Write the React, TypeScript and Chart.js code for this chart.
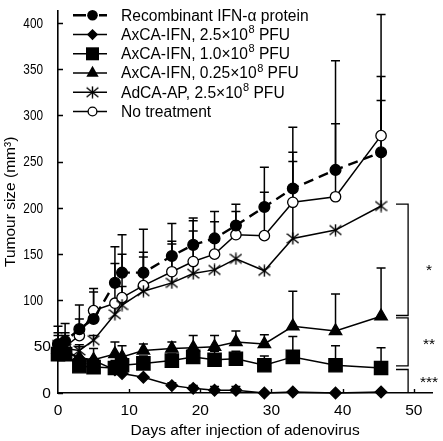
import React, { useEffect, useRef } from 'react';
import { Chart, registerables } from 'chart.js';
Chart.register(...registerables);

const FONT = '"Liberation Sans", Arial, Helvetica, sans-serif';

const days = [0, 1, 3, 5, 8, 9, 12, 16, 19, 22, 25, 29, 33, 39, 45.4];

const recombinant = [53, 56, 69, 80, 119, 130, 130, 148, 160, 167, 181, 201, 221, 241, 260];
const recombinantTop = [72, 75, 95, 113, 158, 171, 177, 183, 189, 196, 204, 244, 287, 291, 342];

const dose25 = [46, 45, 37, 35, 25, 21, 17, 8, 5, 3, 3, 0, 1, 0, 1];
const dose25Top = [null, null, null, null, null, null, null, 11, 8, 7, 7, null, null, null, null];

const dose10 = [42, 42, 29, 28, 27, 30, 32, 35, 39, 36, 37, 30, 39, 30, 27];
const dose10Top = [50, 50, 38, 35, 35, 36, 40, 42, 45, 45, 45, 40, 61, 51, 49];

const dose025 = [47, 46, 38, 36, 42, 39, 46, 48, 49, 50, 55, 53, 72, 67, 83];
const dose025Top = [null, null, 50, 48, 55, 51, 53, 55, 62, 62, 67, 63, 110, 107, 135];

const adcaAP = [52, 48, 46, 57, 85, 95, 110, 119, 129, 133, 145, 132, 167, 176, 202];
const adcaAPTop = [65, 62, 52, 62, 96, 115, 147, 161, 175, null, null, null, 250, null, 316];

const noTreatment = [52, 50, 62, 89, 97, 103, 116, 131, 142, 150, 171, 170, 206, 212, 278];
const noTreatmentTop = [62, 65, 80, 109, 140, 150, 152, 164, 186, 185, 196, 217, 260, 359, 409];

const xTickValues = [0, 10, 20, 30, 40, 50];
const yTickValues = [0, 50, 100, 150, 200, 250, 300, 350, 400];

const legendLabels: [string, string, string][] = [
  ['Recombinant IFN-α protein', '', ''],
  ['AxCA-IFN, 2.5×10', '8', ' PFU'],
  ['AxCA-IFN, 1.0×10', '8', ' PFU'],
  ['AxCA-IFN, 0.25×10', '8', ' PFU'],
  ['AdCA-AP, 2.5×10', '8', ' PFU'],
  ['No treatment', '', ''],
];

// significance brackets: [upper value, lower value] in mm³
const bracketSpans = [
  [204, 83.7],
  [81.2, 29.3],
  [25.4, 0],
];
const significanceLabels = ['*', '**', '***'];

function makeAsterisk(size: number, lw: number) {
  const c = document.createElement('canvas');
  c.width = size;
  c.height = size;
  const g = c.getContext('2d')!;
  g.strokeStyle = '#000';
  g.lineWidth = lw;
  const m = size / 2;
  const r = size / 2 - 0.6;
  g.beginPath();
  g.moveTo(m, m - r);
  g.lineTo(m, m + r);
  g.moveTo(m - r, m - r * 0.8);
  g.lineTo(m + r, m + r * 0.8);
  g.moveTo(m + r, m - r * 0.8);
  g.lineTo(m - r, m + r * 0.8);
  g.stroke();
  return c;
}

function drawMarker(ctx: CanvasRenderingContext2D, kind: string, x: number, y: number, star: HTMLCanvasElement) {
  ctx.save();
  ctx.fillStyle = '#000';
  ctx.strokeStyle = '#000';
  ctx.lineWidth = 1.3;
  ctx.setLineDash([]);
  ctx.beginPath();
  if (kind === 'circle') {
    ctx.arc(x, y, 5.3, 0, Math.PI * 2);
    ctx.fill();
  } else if (kind === 'diamond') {
    ctx.moveTo(x, y - 5.6);
    ctx.lineTo(x + 5.6, y);
    ctx.lineTo(x, y + 5.6);
    ctx.lineTo(x - 5.6, y);
    ctx.closePath();
    ctx.fill();
  } else if (kind === 'square') {
    ctx.rect(x - 6.5, y - 6.5, 13, 13);
    ctx.fill();
  } else if (kind === 'triangle') {
    ctx.moveTo(x, y - 7.2);
    ctx.lineTo(x + 6.2, y + 3.6);
    ctx.lineTo(x - 6.2, y + 3.6);
    ctx.closePath();
    ctx.fill();
  } else if (kind === 'star') {
    ctx.drawImage(star, x - star.width / 2, y - star.height / 2);
  } else if (kind === 'open') {
    ctx.arc(x, y, 4.4, 0, Math.PI * 2);
    ctx.fillStyle = '#fff';
    ctx.fill();
    ctx.stroke();
  }
  ctx.restore();
}

export default function App() {
  const ref = useRef<HTMLCanvasElement>(null);

  useEffect(() => {
    if (!ref.current) return;
    const star = makeAsterisk(13, 1.4);
    const series = [
      { label: legendLabels[0].join(''), values: recombinant, tops: recombinantTop, kind: 'circle', style: 'circle', radius: 5.4, fill: '#000', dash: [10, 6], width: 2.4 },
      { label: legendLabels[1].join(''), values: dose25, tops: dose25Top, kind: 'diamond', style: 'rectRot', radius: 5.8, fill: '#000', dash: [], width: 1.5 },
      { label: legendLabels[2].join(''), values: dose10, tops: dose10Top, kind: 'square', style: 'rect', radius: 9.4, fill: '#000', dash: [], width: 1.5 },
      { label: legendLabels[3].join(''), values: dose025, tops: dose025Top, kind: 'triangle', style: 'triangle', radius: 7.2, fill: '#000', dash: [], width: 1.5 },
      { label: legendLabels[4].join(''), values: adcaAP, tops: adcaAPTop, kind: 'star', style: star as any, radius: 6.5, fill: '#000', dash: [], width: 1.5 },
      { label: legendLabels[5].join(''), values: noTreatment, tops: noTreatmentTop, kind: 'open', style: 'circle', radius: 5.2, fill: '#fff', dash: [], width: 1.5 },
    ];

    const errorBars = {
      id: 'errorBars',
      beforeDatasetsDraw(chart: any) {
        const { ctx, scales } = chart;
        const xs = scales.x;
        const ys = scales.y;
        ctx.save();
        ctx.strokeStyle = '#000';
        ctx.lineWidth = 1.5;
        ctx.setLineDash([]);
        series.forEach((s) => {
          s.tops.forEach((t: number | null, i: number) => {
            if (t == null) return;
            const px = xs.getPixelForValue(days[i]);
            const p0 = ys.getPixelForValue(s.values[i]);
            const p1 = ys.getPixelForValue(t);
            ctx.beginPath();
            ctx.moveTo(px, p0);
            ctx.lineTo(px, p1);
            ctx.moveTo(px - 4.5, p1);
            ctx.lineTo(px + 4.5, p1);
            ctx.stroke();
          });
        });
        ctx.restore();
      },
    };

    const decorations = {
      id: 'decorations',
      afterDraw(chart: any) {
        const { ctx, scales } = chart;
        const xs = scales.x;
        const ys = scales.y;
        const left = chart.chartArea.left;
        const bottom = chart.chartArea.bottom;
        ctx.save();
        ctx.strokeStyle = '#000';
        ctx.fillStyle = '#000';
        ctx.lineWidth = 1.4;
        // inward ticks
        ctx.beginPath();
        yTickValues.forEach((v) => {
          const py = Math.round(ys.getPixelForValue(v)) + 0.5;
          ctx.moveTo(left, py);
          ctx.lineTo(left + 5, py);
        });
        xTickValues.forEach((v) => {
          if (v === 0) return;
          const px = Math.round(xs.getPixelForValue(v)) + 0.5;
          ctx.moveTo(px, bottom);
          ctx.lineTo(px, bottom - 4);
        });
        ctx.stroke();

        // y tick labels
        ctx.font = `15.5px ${FONT}`;
        ctx.textBaseline = 'middle';
        ctx.textAlign = 'right';
        yTickValues.forEach((v) => {
          const text = String(v);
          const py = ys.getPixelForValue(v) + 0.5;
          if (text.length >= 3) {
            ctx.save();
            ctx.translate(43, py);
            ctx.scale(0.76, 1);
            ctx.fillText(text, 0, 0);
            ctx.restore();
          } else {
            ctx.fillText(text, 50.9, py);
          }
        });

        // brackets
        const bx0 = xs.getPixelForValue(47.5);
        const bx1 = xs.getPixelForValue(49.2);
        ctx.lineWidth = 1.3;
        const labelOffsets = [14.9, 7.2, 6.2];
        bracketSpans.forEach(([hi, lo], i) => {
          const pTop = ys.getPixelForValue(hi);
          const pBot = ys.getPixelForValue(lo);
          ctx.beginPath();
          ctx.moveTo(bx0, pTop);
          ctx.lineTo(bx1, pTop);
          ctx.lineTo(bx1, pBot);
          if (lo > 0) ctx.lineTo(bx0, pBot);
          ctx.stroke();
          const mid = (pTop + pBot) / 2;
          ctx.font = `15.5px ${FONT}`;
          ctx.textAlign = 'center';
          ctx.textBaseline = 'alphabetic';
          ctx.fillText(significanceLabels[i], 429, mid + labelOffsets[i]);
        });

        // legend
        const rowY0 = 15.3;
        const rowStep = 19.25;
        series.forEach((s, i) => {
          const y = rowY0 + i * rowStep;
          ctx.save();
          ctx.strokeStyle = '#000';
          ctx.beginPath();
          if (s.dash.length) {
            ctx.lineWidth = 2.6;
            ctx.moveTo(73, y);
            ctx.lineTo(86, y);
            ctx.moveTo(99, y);
            ctx.lineTo(107, y);
          } else {
            ctx.lineWidth = 1.5;
            ctx.moveTo(73, y);
            ctx.lineTo(107, y);
          }
          ctx.stroke();
          ctx.restore();
          drawMarker(ctx, s.kind, 92.5, y, star);
          const [a, sup, b] = legendLabels[i];
          ctx.font = `15.6px ${FONT}`;
          ctx.textAlign = 'left';
          ctx.textBaseline = 'middle';
          let x = 121;
          ctx.fillText(a, x, y + 1);
          x += ctx.measureText(a).width;
          if (sup) {
            ctx.font = `11px ${FONT}`;
            ctx.fillText(sup, x + 0.5, y - 4.5);
            x += ctx.measureText(sup).width + 0.5;
            ctx.font = `15.6px ${FONT}`;
            ctx.fillText(b, x, y + 1);
          }
        });
        ctx.restore();
      },
    };

    const chart = new Chart(ref.current, {
      type: 'line',
      data: {
        datasets: series.map((s) => ({
          label: s.label,
          data: days.map((d, i) => ({ x: d, y: s.values[i] })),
          borderColor: '#000',
          borderWidth: s.width,
          borderDash: s.dash,
          pointStyle: s.style,
          pointRadius: s.radius,
          pointHoverRadius: s.radius,
          pointBackgroundColor: s.fill,
          pointBorderColor: '#000',
          pointBorderWidth: 1.3,
          tension: 0,
          fill: false,
          clip: false as any,
        })),
      },
      plugins: [errorBars, decorations],
      options: {
        animation: false,
        responsive: false,
        devicePixelRatio: 1,
        layout: { padding: { top: 3, right: 6, left: 0, bottom: 0 } },
        plugins: {
          legend: { display: false },
          tooltip: { enabled: false },
        },
        scales: {
          x: {
            type: 'linear',
            min: 0,
            max: 52.6,
            afterBuildTicks: (s: any) => {
              s.ticks = xTickValues.map((v) => ({ value: v }));
            },
            afterFit: (s: any) => {
              s.height = 48;
            },
            grid: { display: false, drawTicks: false, tickLength: 0 },
            border: { display: true, color: '#000', width: 1.6 },
            ticks: {
              font: { size: 15.5, family: FONT },
              color: '#000',
              padding: 8,
              maxRotation: 0,
              autoSkip: false,
            },
            title: {
              display: true,
              text: 'Days after injection of adenovirus',
              font: { size: 15.5, family: FONT },
              color: '#000',
              padding: { top: 0, bottom: 1 },
            },
          },
          y: {
            type: 'linear',
            min: 0,
            max: 413,
            afterBuildTicks: (s: any) => {
              s.ticks = yTickValues.map((v) => ({ value: v }));
            },
            afterFit: (s: any) => {
              s.width = 58;
            },
            grid: { display: false, drawTicks: false, tickLength: 0 },
            border: { display: true, color: '#000', width: 1.6 },
            ticks: { display: false },
            title: {
              display: true,
              text: 'Tumour size (mm³)',
              font: { size: 15.5, family: FONT },
              color: '#000',
              padding: { top: 1, bottom: 0 },
            },
          },
        },
      } as any,
    });
    return () => chart.destroy();
  }, []);

  return (
    <div style={{ position: 'fixed', left: 0, top: 0, width: 443, height: 441, background: '#fff' }}>
      <canvas ref={ref} width={443} height={441} style={{ display: 'block' }} />
    </div>
  );
}
